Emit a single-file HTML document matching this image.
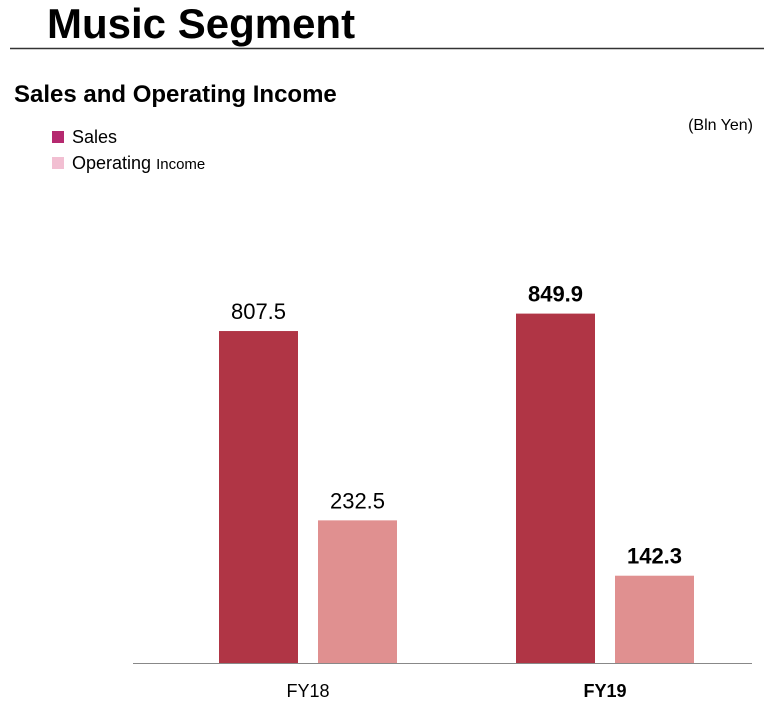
<!DOCTYPE html>
<html><head><meta charset="utf-8"><style>
body{margin:0;background:#fff;font-family:"Liberation Sans",sans-serif;}
#c{position:relative;width:764px;height:710px;overflow:hidden;}
</style></head><body>
<div id="c">
<svg width="764" height="710" id="svg">
<text x="47" y="38" font-size="42" font-weight="bold" fill="#000">Music Segment</text>
<line x1="10" y1="48.5" x2="764" y2="48.5" stroke="#333" stroke-width="1.5"/>
<text x="14" y="102" font-size="24" font-weight="bold" fill="#000">Sales and Operating Income</text>
<text x="753" y="130" font-size="16" text-anchor="end" fill="#000">(Bln Yen)</text>
<rect x="52" y="131" width="12" height="12" fill="#b5296f"/>
<text x="72" y="143" font-size="18" fill="#000">Sales</text>
<rect x="52" y="157" width="12" height="12" fill="#f2bfd2"/>
<text x="72" y="169" font-size="18" fill="#000">Operating <tspan font-size="15">Income</tspan></text>
<line x1="133" y1="663.5" x2="752" y2="663.5" stroke="#888" stroke-width="1"/>
<g id="bars"></g>
</svg>
</div>
<script>
const categories = ["FY18", "FY19"];
const salesValues = [807.5, 849.9];
const incomeValues = [232.5, 142.3];
const boldCategory = [false, true];
const NS = "http://www.w3.org/2000/svg";
const baseY = 663;
const salesScale = v => v * 0.4111;
const incomeScale = v => v * 0.6135;
const groupX = i => 219 + i * 297;
const barW = 79;
const g = document.getElementById("bars");
function mk(tag, attrs){const e=document.createElementNS(NS,tag);for(const k in attrs)e.setAttribute(k,attrs[k]);return e;}
categories.forEach((cat,i)=>{
  const x0 = groupX(i);
  const hs = salesScale(salesValues[i]);
  const r1 = mk("rect",{x:x0,y:baseY-hs,width:barW,height:hs,fill:"#b03545"});
  
  
  g.appendChild(r1);
  const t1 = mk("text",{x:x0+barW/2,y:baseY-hs-12,"font-size":22,"text-anchor":"middle","font-weight":boldCategory[i]?"bold":"normal"});
  t1.textContent = salesValues[i].toFixed(1);
  
  
  g.appendChild(t1);
  const x1 = x0 + 99;
  const hi = incomeScale(incomeValues[i]);
  const r2 = mk("rect",{x:x1,y:baseY-hi,width:barW,height:hi,fill:"#e09090"});
  
  
  g.appendChild(r2);
  const t2 = mk("text",{x:x1+barW/2,y:baseY-hi-12,"font-size":22,"text-anchor":"middle","font-weight":boldCategory[i]?"bold":"normal"});
  t2.textContent = incomeValues[i].toFixed(1);
  
  
  g.appendChild(t2);
  const t3 = mk("text",{x:x0+89,y:697,"font-size":18,"text-anchor":"middle","font-weight":boldCategory[i]?"bold":"normal"});
  t3.textContent = cat;
  
  
  g.appendChild(t3);
});
</script>
</body></html>
